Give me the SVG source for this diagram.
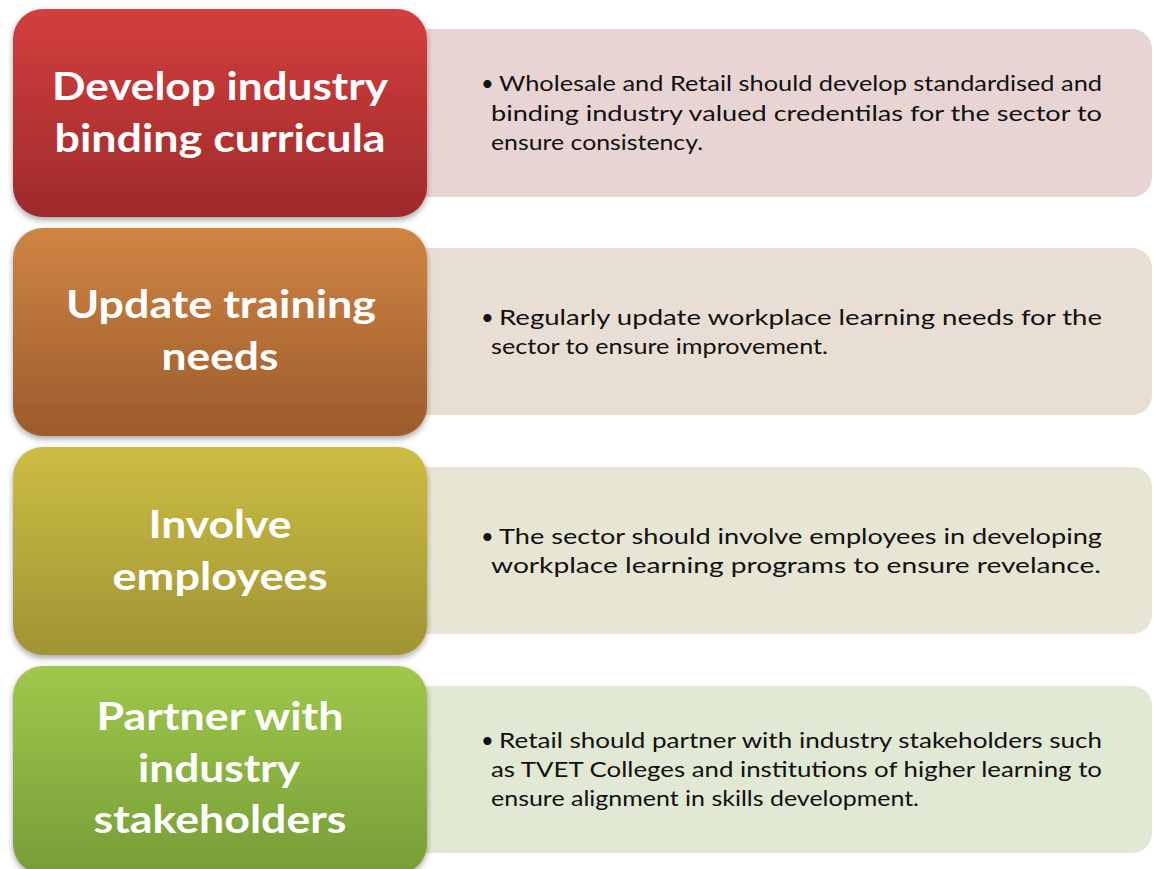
<svg xmlns="http://www.w3.org/2000/svg" width="1154" height="869" viewBox="0 0 1154 869">
<style>
.t{font-family:Lato,"Open Sans","Liberation Sans",sans-serif;font-weight:bold;font-size:39px;fill:#fff;text-anchor:middle}
.b{font-family:Lato,"Open Sans","Liberation Sans",sans-serif;font-size:22px;fill:#111}
</style>
<defs>
<filter id="sh" x="-10%" y="-10%" width="120%" height="130%"><feDropShadow dx="0" dy="3" stdDeviation="3" flood-color="#000" flood-opacity="0.35"/></filter>
<linearGradient id="g1" x1="0" y1="0" x2="0" y2="1"><stop offset="0" stop-color="#D43F3E"/><stop offset="1" stop-color="#9E2A2B"/></linearGradient>
<linearGradient id="g2" x1="0" y1="0" x2="0" y2="1"><stop offset="0" stop-color="#CF8543"/><stop offset="1" stop-color="#9C5B2C"/></linearGradient>
<linearGradient id="g3" x1="0" y1="0" x2="0" y2="1"><stop offset="0" stop-color="#CBBD43"/><stop offset="1" stop-color="#A09434"/></linearGradient>
<linearGradient id="g4" x1="0" y1="0" x2="0" y2="1"><stop offset="0" stop-color="#9FC84B"/><stop offset="1" stop-color="#779D37"/></linearGradient>
</defs>
<rect width="1154" height="869" fill="#fff"/>
<g id="row1">
<rect x="400" y="29" width="752" height="168" rx="20" fill="#E9D4D4"/>
<rect x="13" y="9" width="414" height="208" rx="30" fill="url(#g1)" filter="url(#sh)"/>
<text class="t" x="220" y="100" textLength="336" lengthAdjust="spacingAndGlyphs">Develop industry</text>
<text class="t" x="220" y="152" textLength="331" lengthAdjust="spacingAndGlyphs">binding curricula</text>
<text class="b" x="481" y="91">•</text>
<text class="b" x="499" y="91" textLength="603" lengthAdjust="spacingAndGlyphs">Wholesale and Retail should develop standardised and</text>
<text class="b" x="491" y="121" textLength="611" lengthAdjust="spacingAndGlyphs">binding industry valued credentilas for the sector to</text>
<text class="b" x="491" y="150" textLength="212" lengthAdjust="spacingAndGlyphs">ensure consistency.</text>
</g>
<g id="row2">
<rect x="400" y="248" width="752" height="167" rx="20" fill="#E9DED4"/>
<rect x="13" y="228" width="414" height="208" rx="30" fill="url(#g2)" filter="url(#sh)"/>
<text class="t" x="221" y="318" textLength="310" lengthAdjust="spacingAndGlyphs">Update training</text>
<text class="t" x="220" y="370" textLength="117" lengthAdjust="spacingAndGlyphs">needs</text>
<text class="b" x="481" y="325">•</text>
<text class="b" x="499" y="325" textLength="603" lengthAdjust="spacingAndGlyphs">Regularly update workplace learning needs for the</text>
<text class="b" x="491" y="354" textLength="337" lengthAdjust="spacingAndGlyphs">sector to ensure improvement.</text>
</g>
<g id="row3">
<rect x="400" y="467" width="752" height="167" rx="20" fill="#E7E5D4"/>
<rect x="13" y="447" width="414" height="208" rx="30" fill="url(#g3)" filter="url(#sh)"/>
<text class="t" x="220" y="538" textLength="143" lengthAdjust="spacingAndGlyphs">Involve</text>
<text class="t" x="220" y="590" textLength="215" lengthAdjust="spacingAndGlyphs">employees</text>
<text class="b" x="481" y="544">•</text>
<text class="b" x="499" y="544" textLength="603" lengthAdjust="spacingAndGlyphs">The sector should involve employees in developing</text>
<text class="b" x="491" y="573" textLength="610" lengthAdjust="spacingAndGlyphs">workplace learning programs to ensure revelance.</text>
</g>
<g id="row4">
<rect x="400" y="686" width="752" height="167" rx="20" fill="#E1E8D4"/>
<rect x="13" y="666" width="414" height="208" rx="30" fill="url(#g4)" filter="url(#sh)"/>
<text class="t" x="220" y="730" textLength="247" lengthAdjust="spacingAndGlyphs">Partner with</text>
<text class="t" x="219" y="782" textLength="162" lengthAdjust="spacingAndGlyphs">industry</text>
<text class="t" x="220" y="833" textLength="253" lengthAdjust="spacingAndGlyphs">stakeholders</text>
<text class="b" x="481" y="748">•</text>
<text class="b" x="499" y="748" textLength="603" lengthAdjust="spacingAndGlyphs">Retail should partner with industry stakeholders such</text>
<text class="b" x="491" y="777" textLength="611" lengthAdjust="spacingAndGlyphs">as TVET Colleges and institutions of higher learning to</text>
<text class="b" x="491" y="806" textLength="428" lengthAdjust="spacingAndGlyphs">ensure alignment in skills development.</text>
</g>
<g id="connectors"/>
</svg>
